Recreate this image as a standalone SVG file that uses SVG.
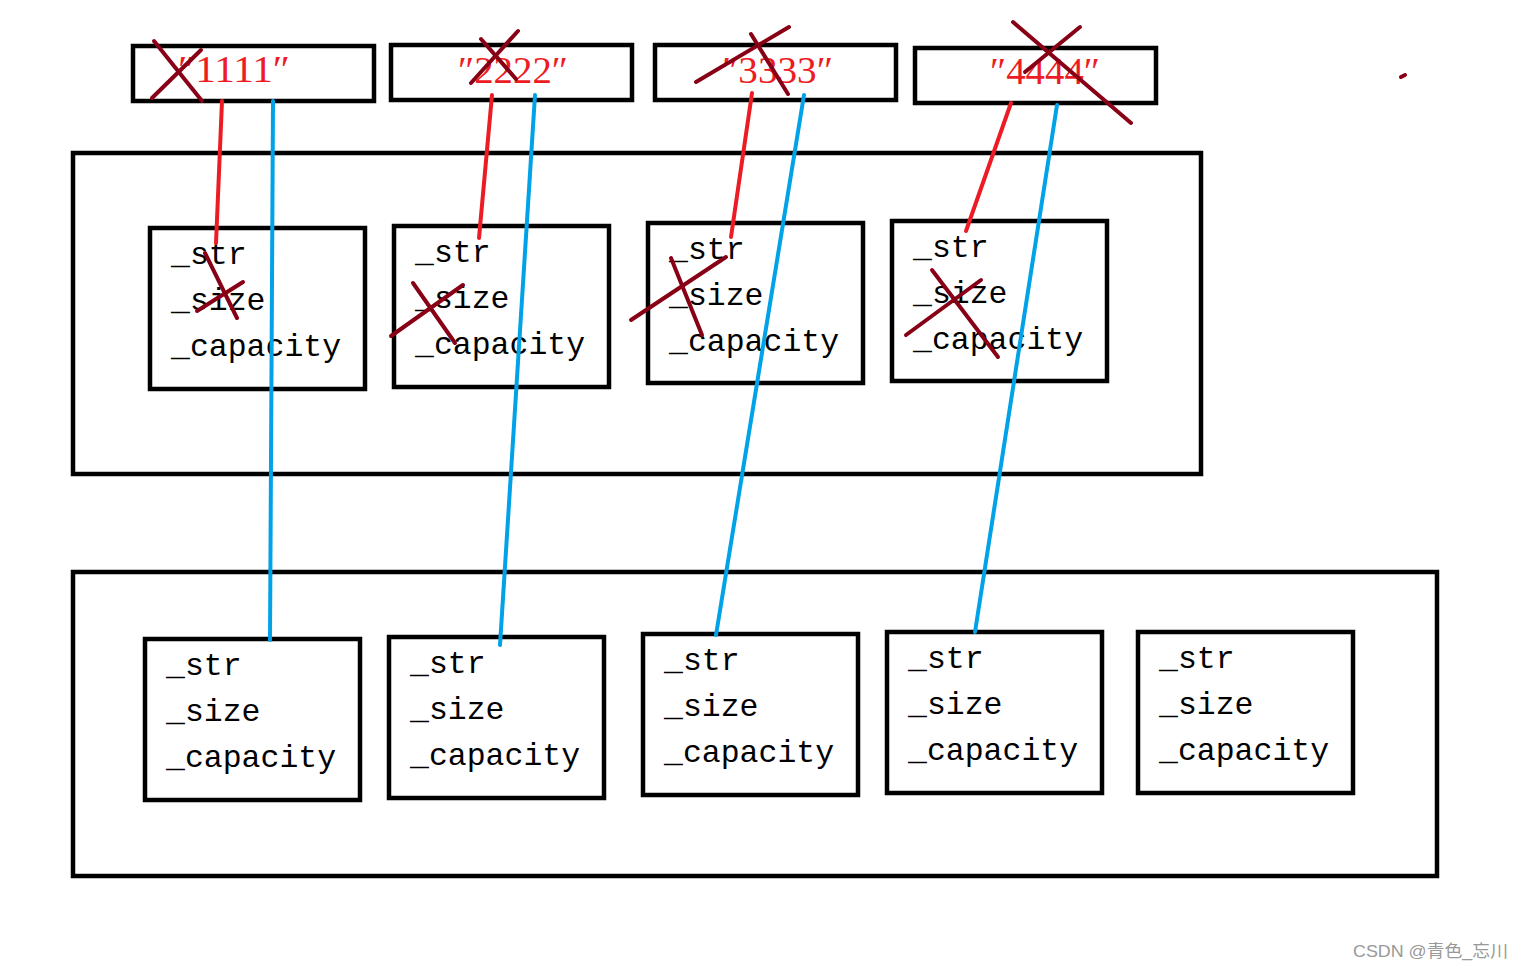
<svg xmlns="http://www.w3.org/2000/svg" width="1523" height="969" viewBox="0 0 1523 969">
<style>
.box{fill:none;stroke:#000;stroke-width:4.5}
.f{font-family:"Liberation Mono",monospace;font-size:31.5px;fill:#000}
.q{font-family:"Liberation Serif",serif;font-size:38px;fill:#ed1c24}
.red{stroke:#ed1c24;stroke-width:4;stroke-linecap:round}
.blue{stroke:#00a2e8;stroke-width:4;stroke-linecap:round}
.x{stroke:#880015;stroke-width:4;stroke-linecap:round}
.wm{font-family:"Liberation Sans","Noto Sans CJK SC",sans-serif;font-size:17px;fill:#999}
</style>
<rect width="1523" height="969" fill="#fff"/>
<g id="str1"><rect class="box" x="133" y="46" width="241" height="55"/><text class="q" x="178" y="82" textLength="112" lengthAdjust="spacingAndGlyphs">″1111″</text></g>
<g id="str2"><rect class="box" x="391" y="45" width="241" height="55"/><text class="q" x="458" y="83" textLength="110" lengthAdjust="spacingAndGlyphs">″2222″</text></g>
<g id="str3"><rect class="box" x="655" y="45" width="241" height="55"/><text class="q" x="722" y="83" textLength="111" lengthAdjust="spacingAndGlyphs">″3333″</text></g>
<g id="str4"><rect class="box" x="915" y="48" width="241" height="55"/><text class="q" x="990" y="84" textLength="110" lengthAdjust="spacingAndGlyphs">″4444″</text></g>
<g id="container1"><rect class="box" x="73" y="153" width="1128" height="321"/></g>
<g id="container2"><rect class="box" x="73" y="572" width="1364" height="304"/></g>
<g id="a1"><rect class="box" x="150" y="228" width="215" height="161"/><text class="f" x="171" y="264">_str</text><text class="f" x="171" y="310">_size</text><text class="f" x="171" y="356">_capacity</text></g>
<g id="a2"><rect class="box" x="394" y="226" width="215" height="161"/><text class="f" x="415" y="262">_str</text><text class="f" x="415" y="308">_size</text><text class="f" x="415" y="354">_capacity</text></g>
<g id="a3"><rect class="box" x="648" y="223" width="215" height="160"/><text class="f" x="669" y="259">_str</text><text class="f" x="669" y="305">_size</text><text class="f" x="669" y="351">_capacity</text></g>
<g id="a4"><rect class="box" x="892" y="221" width="215" height="160"/><text class="f" x="913" y="257">_str</text><text class="f" x="913" y="303">_size</text><text class="f" x="913" y="349">_capacity</text></g>
<g id="b1"><rect class="box" x="145" y="639" width="215" height="161"/><text class="f" x="166" y="675">_str</text><text class="f" x="166" y="721">_size</text><text class="f" x="166" y="767">_capacity</text></g>
<g id="b2"><rect class="box" x="389" y="637" width="215" height="161"/><text class="f" x="410" y="673">_str</text><text class="f" x="410" y="719">_size</text><text class="f" x="410" y="765">_capacity</text></g>
<g id="b3"><rect class="box" x="643" y="634" width="215" height="161"/><text class="f" x="664" y="670">_str</text><text class="f" x="664" y="716">_size</text><text class="f" x="664" y="762">_capacity</text></g>
<g id="b4"><rect class="box" x="887" y="632" width="215" height="161"/><text class="f" x="908" y="668">_str</text><text class="f" x="908" y="714">_size</text><text class="f" x="908" y="760">_capacity</text></g>
<g id="b5"><rect class="box" x="1138" y="632" width="215" height="161"/><text class="f" x="1159" y="668">_str</text><text class="f" x="1159" y="714">_size</text><text class="f" x="1159" y="760">_capacity</text></g>
<g id="connectors">
<line class="red" x1="222" y1="101" x2="216" y2="243"/>
<line class="red" x1="492" y1="95" x2="479" y2="238"/>
<line class="red" x1="752" y1="93" x2="731" y2="237"/>
<line class="red" x1="1011" y1="103" x2="966" y2="231"/>
<line class="blue" x1="273" y1="101" x2="270" y2="640"/>
<line class="blue" x1="535" y1="95" x2="500" y2="645"/>
<line class="blue" x1="804" y1="95" x2="716" y2="635"/>
<line class="blue" x1="1057" y1="105" x2="975" y2="632"/>
</g>
<g id="crosses">
<line class="x" x1="154" y1="41" x2="202" y2="101"/><line class="x" x1="152" y1="98" x2="201" y2="50"/>
<line class="x" x1="481" y1="39" x2="516" y2="79"/><line class="x" x1="471" y1="83" x2="518" y2="31"/>
<line class="x" x1="751" y1="34" x2="788" y2="94"/><line class="x" x1="696" y1="82" x2="789" y2="27"/>
<line class="x" x1="1013" y1="22" x2="1131" y2="123"/><line class="x" x1="1025" y1="72" x2="1080" y2="27"/>
<line class="x" x1="205" y1="253" x2="237" y2="318"/><line class="x" x1="197" y1="311" x2="243" y2="282"/>
<line class="x" x1="413" y1="283" x2="455" y2="343"/><line class="x" x1="391" y1="336" x2="463" y2="285"/>
<line class="x" x1="671" y1="258" x2="702" y2="335"/><line class="x" x1="631" y1="320" x2="726" y2="257"/>
<line class="x" x1="932" y1="270" x2="998" y2="357"/><line class="x" x1="906" y1="335" x2="981" y2="280"/>
<line class="x" x1="1401" y1="77" x2="1405" y2="75"/>
</g>
<text class="wm" x="1353" y="957" textLength="155" lengthAdjust="spacingAndGlyphs">CSDN @青色_忘川</text>
</svg>
